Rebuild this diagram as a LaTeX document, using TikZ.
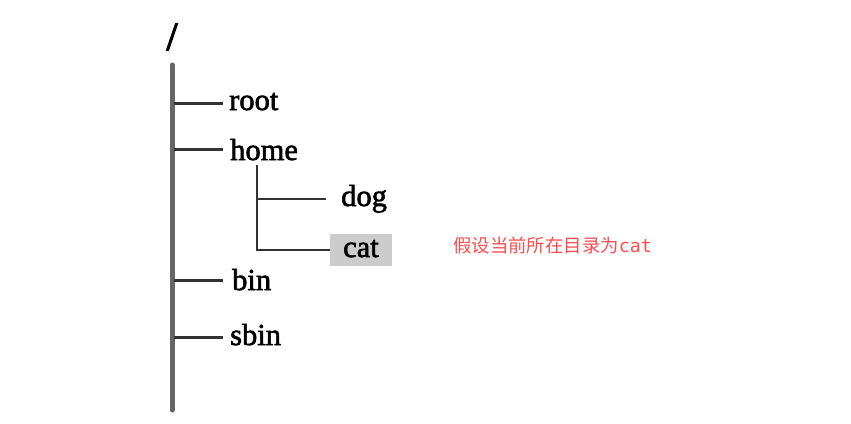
\documentclass[tikz,border=0pt]{standalone}
\usepackage{fontspec}
\setmainfont{Liberation Serif}[FakeBold=2]
\newfontfamily\slashfont{Liberation Serif}[FakeBold=3]
\newfontfamily\cjk{Noto Sans CJK SC}
\newfontfamily\monof{DejaVu Sans Mono}
\definecolor{trunkgray}{HTML}{666666}
\definecolor{branchdark}{HTML}{333333}
\definecolor{hlgray}{HTML}{CCCCCC}
\definecolor{notered}{HTML}{FF4D4D}
\begin{document}
\begin{tikzpicture}[x=1pt,y=-1pt,
  dirlabel/.style={font=\fontsize{30.5}{32}\selectfont, inner sep=0pt, anchor=base west},
  trunk/.style={draw=trunkgray, line width=5pt, line cap=round},
  branch/.style={draw=branchdark, line width=3pt},
  subbranch/.style={draw=branchdark, line width=1.6pt},
  note/.style={font=\fontsize{18.4}{20}\selectfont, text=notered, inner sep=0pt, anchor=base west}]
\useasboundingbox (0,0) rectangle (851,423);
% root slash
\node[font=\slashfont\fontsize{40}{42}\selectfont, inner sep=0pt] (slash) at (172,37) {/};
% trunk
\coordinate (ttop) at (172,65);
\coordinate (tbot) at (172,410);
\draw[trunk] (ttop) -- (tbot);
% labels
\node[dirlabel] (root) at (229,110) {root};
\node[dirlabel] (home) at (230,160) {home};
\node[dirlabel] (bin) at (232,290) {bin};
\node[dirlabel] (sbin) at (230,345) {sbin};
\node[dirlabel] (dog) at (341,206) {dog};
\node[fill=hlgray, minimum width=62pt, minimum height=32pt, inner sep=0pt] (catbox) at (361,250) {};
\node[dirlabel] (cat) at (343,257) {cat};
\node[note] (note) at (453,252) {{\cjk 假设当前所在目录为}{\monof cat}};
% branch points on trunk
\coordinate (broot) at (174,103);
\coordinate (bhome) at (174,149);
\coordinate (bbin) at (174,280);
\coordinate (bsbin) at (174,337);
\draw[branch] (broot) -- (223,103);
\draw[branch] (bhome) -- (223,149);
\draw[branch] (bbin) -- (223,280);
\draw[branch] (bsbin) -- (223,337);
% home subtree
\coordinate (stop) at (257,165);
\coordinate (sdog) at (257,199);
\coordinate (scat) at (257,250);
\draw[subbranch] (stop) -- (scat) -- (catbox.west);
\draw[subbranch] (sdog) -- (326,199);
\end{tikzpicture}
\end{document}
